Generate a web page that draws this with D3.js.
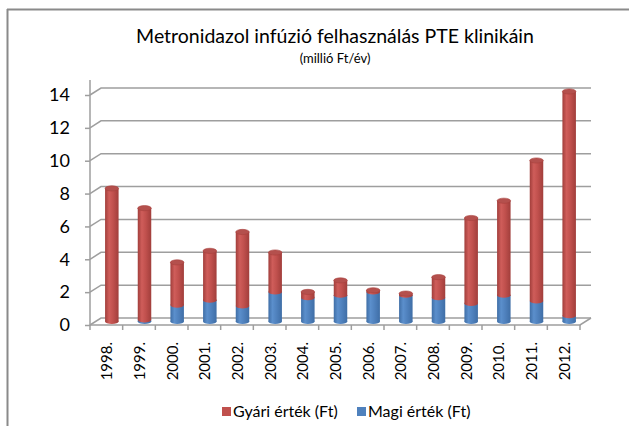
<!DOCTYPE html>
<html>
<head>
<meta charset="utf-8">
<script src="https://cdn.jsdelivr.net/npm/d3@7"></script>
<style>
  html, body { margin: 0; padding: 0; background: #fff; }
  svg { display: block; }
  text { font-family: Lato, "Open Sans", sans-serif; fill: #000; }
</style>
</head>
<body>
<svg id="chart" width="629" height="426"></svg>
<script>
const years = ['1998.', '1999.', '2000.', '2001.', '2002.', '2003.', '2004.', '2005.', '2006.', '2007.', '2008.', '2009.', '2010.', '2011.', '2012.'];
const magi  = [0.0, 0.1, 1.0, 1.3, 0.95, 1.8, 1.45, 1.6, 1.8, 1.6, 1.45, 1.1, 1.6, 1.25, 0.35];
const gyari = [8.1, 6.8, 2.6, 3.0, 4.5, 2.4, 0.35, 0.9, 0.1, 0.1, 1.25, 5.2, 5.75, 8.55, 13.65];
const yTicks = [0, 2, 4, 6, 8, 10, 12, 14];
const seriesNames = ['Gyári érték (Ft)', 'Magi érték (Ft)'];
const titleText = 'Metronidazol infúzió felhasználás PTE klinikáin';
const subtitleText = '(millió Ft/év)';

(function () {
const svg = d3.select('#chart');
const W = 629, H = 426;
const pLeft = 90, pRight = 580, pBottom = 325, pTop = 95;
const depthX = 11, depthY = -7;

const x = d3.scaleBand().domain(years).range([pLeft, pRight]).padding(0);
const y = d3.scaleLinear().domain([0, 14]).range([pBottom, pTop]);

const redCol = '#c0504d', blueCol = '#4f81bd';
const gridCol = '#9e9e9e';

const defs = svg.append('defs');
function grad(id, dark, mid, light) {
  const g = defs.append('linearGradient').attr('id', id).attr('x1', '0%').attr('x2', '100%').attr('y1', '0%').attr('y2', '0%');
  g.append('stop').attr('offset', '0%').attr('stop-color', dark);
  g.append('stop').attr('offset', '30%').attr('stop-color', light);
  g.append('stop').attr('offset', '60%').attr('stop-color', mid);
  g.append('stop').attr('offset', '100%').attr('stop-color', dark);
}
grad('gRed', '#a13e3b', '#c0504d', '#cf5d5a');
grad('gBlue', '#3f6ea6', '#4f81bd', '#5b8fcc');

svg.append('line').attr('x1', 7).attr('x2', W).attr('y1', 9.5).attr('y2', 9.5)
  .attr('stroke', '#8a8a8a').attr('stroke-width', 2);
svg.append('line').attr('x1', 7.5).attr('x2', 7.5).attr('y1', 9).attr('y2', H)
  .attr('stroke', '#8a8a8a').attr('stroke-width', 2);

svg.append('text').attr('x', 335).attr('y', 43).attr('text-anchor', 'middle')
  .style('font-size', '19.5px').text(titleText);
svg.append('text').attr('x', 335).attr('y', 63).attr('text-anchor', 'middle')
  .style('font-size', '13px').text(subtitleText);

const grid = svg.append('g');
yTicks.forEach(v => {
  const yf = y(v);
  grid.append('path')
    .attr('d', `M${pLeft},${yf} L${pLeft + depthX},${yf + depthY} L${pRight + depthX},${yf + depthY}`)
    .attr('fill', 'none').attr('stroke', gridCol).attr('stroke-width', 1.5);
});
grid.append('path')
  .attr('d', `M${pLeft},${pBottom} L${pRight},${pBottom} L${pRight + depthX},${pBottom + depthY}`)
  .attr('fill', 'none').attr('stroke', gridCol).attr('stroke-width', 1.5);

const yAxis = d3.axisLeft(y).tickValues(yTicks).tickSize(5).tickPadding(15).tickFormat(d3.format('d'));
const gy = svg.append('g').attr('transform', `translate(${pLeft},0)`).call(yAxis);
gy.select('.domain').remove();
gy.selectAll('.tick line').attr('stroke', gridCol).attr('stroke-width', 1.5);
gy.selectAll('.tick text').style('font-size', '18px').style('font-family', 'Lato, sans-serif').attr('fill', '#000');
svg.append('line').attr('x1', pLeft).attr('x2', pLeft).attr('y1', 80).attr('y2', pBottom + 0.7)
  .attr('stroke', gridCol).attr('stroke-width', 1.5);

const bounds = years.map(d => x(d)).concat([pRight]);
svg.append('g').selectAll('line').data(bounds).join('line')
  .attr('x1', d => d).attr('x2', d => d).attr('y1', pBottom).attr('y2', pBottom + 5)
  .attr('stroke', gridCol).attr('stroke-width', 1.5);

svg.append('g').selectAll('text').data(years).join('text')
  .attr('transform', d => `translate(${x(d) + x.bandwidth() / 2 + 0.5},342) rotate(-90)`)
  .attr('text-anchor', 'end').attr('dy', '0.36em')
  .style('font-size', '15px').text(d => d);

const bw = 13.5, ry = 2.6;
const ym = v => y(v) + depthY / 2;
const bars = svg.append('g');
years.forEach((yr, i) => {
  const cx = x(yr) + x.bandwidth() / 2 + depthX / 2;
  const y0 = ym(0), y1 = ym(magi[i]), y2 = ym(magi[i] + gyari[i]);
  const g = bars.append('g');
  if (magi[i] > 0) {
    g.append('ellipse').attr('cx', cx).attr('cy', y0).attr('rx', bw / 2).attr('ry', ry).attr('fill', 'url(#gBlue)');
    g.append('rect').attr('x', cx - bw / 2).attr('y', y1).attr('width', bw).attr('height', y0 - y1).attr('fill', 'url(#gBlue)');
  }
  g.append('ellipse').attr('cx', cx).attr('cy', y1).attr('rx', bw / 2).attr('ry', ry).attr('fill', 'url(#gRed)');
  g.append('rect').attr('x', cx - bw / 2).attr('y', y2).attr('width', bw).attr('height', Math.max(0, y1 - y2)).attr('fill', 'url(#gRed)');
  g.append('ellipse').attr('cx', cx).attr('cy', y2).attr('rx', bw / 2).attr('ry', ry).attr('fill', '#b4504d').attr('stroke', '#a8403d').attr('stroke-width', 0.6);
});

const legend = svg.append('g');
const legItems = [
  { name: seriesNames[0], color: redCol, x: 222 },
  { name: seriesNames[1], color: blueCol, x: 357 }
];
legItems.forEach(it => {
  legend.append('rect').attr('x', it.x).attr('y', 407).attr('width', 9).attr('height', 9).attr('fill', it.color);
  legend.append('text').attr('x', it.x + 11).attr('y', 417).style('font-size', '16px').text(it.name);
});
})();
</script>
</body>
</html>
